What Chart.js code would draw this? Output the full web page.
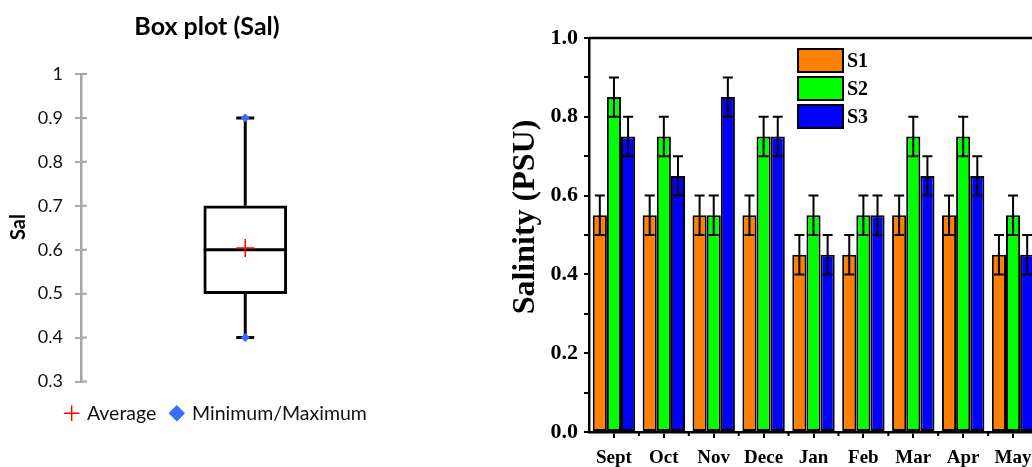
<!DOCTYPE html>
<html>
<head>
<meta charset="utf-8">
<script src="https://cdn.jsdelivr.net/npm/chart.js@4.4.1/dist/chart.umd.min.js"></script>
<style>
    html, body { margin: 0; padding: 0; background: #fff; }
    body { width: 1032px; height: 467px; overflow: hidden; position: relative; }
    #boxplot { position: absolute; left: 0; top: 0; }
    #salinidad { position: absolute; left: 500px; top: 0; }
</style>
</head>
<body>
<canvas id="boxplot" width="420" height="467"></canvas>
<canvas id="salinidad" width="560" height="467"></canvas>
<script>
// Datos del box plot (Sal)
const salMin = 0.4;
const salQ1 = 0.5;
const salMediana = 0.6;
const salQ3 = 0.7;
const salMax = 0.9;
const salPromedio = 0.604;
const boxTicks = [0.3, 0.4, 0.5, 0.6, 0.7, 0.8, 0.9, 1];
const boxTickLabels = ['0.3', '0.4', '0.5', '0.6', '0.7', '0.8', '0.9', '1'];

// Datos de salinidad por mes y estación
const meses = ['Sept', 'Oct', 'Nov', 'Dece', 'Jan', 'Feb', 'Mar', 'Apr', 'May'];
const s1 = [0.55, 0.55, 0.55, 0.55, 0.45, 0.45, 0.55, 0.55, 0.45];
const s2 = [0.85, 0.75, 0.55, 0.75, 0.55, 0.55, 0.75, 0.75, 0.55];
const s3 = [0.75, 0.65, 0.85, 0.75, 0.45, 0.55, 0.65, 0.65, 0.45];
const s1Err = [0.05, 0.05, 0.05, 0.05, 0.05, 0.05, 0.05, 0.05, 0.05];
const s2Err = [0.05, 0.05, 0.05, 0.05, 0.05, 0.05, 0.05, 0.05, 0.05];
const s3Err = [0.05, 0.05, 0.05, 0.05, 0.05, 0.05, 0.05, 0.05, 0.05];
const salTicks = [0, 0.1, 0.2, 0.3, 0.4, 0.5, 0.6, 0.7, 0.8, 0.9, 1.0];
const salTickLabels = ['0.0', '', '0.2', '', '0.4', '', '0.6', '', '0.8', '', '1.0'];

const calibri = 'Lato, "Open Sans", sans-serif';
const times = '"Liberation Serif", "DejaVu Serif", serif';

// Texto girado (títulos de eje) o normal
function texto(ctx, txt, x, y, fuente, girado) {
    ctx.save();
    ctx.translate(x, y);
    if (girado) ctx.rotate(-Math.PI / 2);
    ctx.font = fuente;
    ctx.fillStyle = '#000';
    ctx.textAlign = 'center';
    ctx.textBaseline = 'middle';
    ctx.fillText(txt, 0, 0);
    ctx.restore();
}

// Bigotes y mediana del box plot
const bigotes = {
    id: 'bigotes',
    afterDatasetDraw(chart, args) {
        if (args.index !== 0) return;
        const ctx = chart.ctx;
        const y = chart.scales.y;
        const caja = args.meta.data[0];
        const x = caja.x;
        const mitad = caja.width / 2;
        ctx.save();
        ctx.strokeStyle = '#000';
        ctx.lineWidth = 3;
        ctx.beginPath();
        ctx.moveTo(x, y.getPixelForValue(salQ3));
        ctx.lineTo(x, y.getPixelForValue(salMax));
        ctx.moveTo(x, y.getPixelForValue(salQ1));
        ctx.lineTo(x, y.getPixelForValue(salMin));
        ctx.moveTo(x - 9, y.getPixelForValue(salMax));
        ctx.lineTo(x + 9, y.getPixelForValue(salMax));
        ctx.moveTo(x - 9, y.getPixelForValue(salMin));
        ctx.lineTo(x + 9, y.getPixelForValue(salMin));
        ctx.moveTo(x - mitad, y.getPixelForValue(salMediana));
        ctx.lineTo(x + mitad, y.getPixelForValue(salMediana));
        ctx.stroke();

        // parte interior de las marcas del eje
        ctx.strokeStyle = '#a6a6a6';
        ctx.lineWidth = 2;
        ctx.beginPath();
        boxTicks.forEach(v => {
            const py = y.getPixelForValue(v);
            ctx.moveTo(y.right, py);
            ctx.lineTo(y.right + 6, py);
        });
        ctx.stroke();
        ctx.restore();

        texto(ctx, 'Box plot (Sal)', 207, 27, 'bold 25px ' + calibri, false);
        texto(ctx, 'Sal', 19, 227, 'bold 20px ' + calibri, true);
    }
};

new Chart(document.getElementById('boxplot'), {
    type: 'bar',
    data: {
        labels: ['Sal'],
        datasets: [
            {
                label: 'Caja',
                data: [[salQ1, salQ3]],
                backgroundColor: '#fff',
                borderColor: '#000',
                borderWidth: 3,
                borderSkipped: false,
                barThickness: 83,
                order: 3
            },
            {
                type: 'line',
                label: 'Average',
                data: [salPromedio],
                showLine: false,
                pointStyle: 'cross',
                pointRadius: 9,
                borderColor: '#ff0000',
                backgroundColor: '#ff0000',
                borderWidth: 1.5,
                order: 1
            },
            {
                type: 'line',
                label: 'Minimum/Maximum',
                data: [salMin],
                showLine: false,
                pointStyle: 'rectRot',
                pointRadius: 4,
                borderColor: '#3d6bff',
                backgroundColor: '#3d6bff',
                order: 2
            },
            {
                type: 'line',
                label: 'Max',
                data: [salMax],
                showLine: false,
                pointStyle: 'rectRot',
                pointRadius: 4,
                borderColor: '#3d6bff',
                backgroundColor: '#3d6bff',
                order: 2
            }
        ]
    },
    options: {
        responsive: false,
        animation: false,
        devicePixelRatio: 1,
        layout: { padding: { top: 74, left: 17, right: 4, bottom: 34 } },
        plugins: {
            legend: {
                position: 'bottom',
                labels: {
                    usePointStyle: true,
                    boxWidth: 11,
                    boxHeight: 11,
                    color: '#111',
                    font: { family: calibri, size: 19.5 },
                    padding: 15,
                    filter: item => item.text === 'Average' || item.text === 'Minimum/Maximum'
                }
            },
            tooltip: { enabled: false }
        },
        scales: {
            x: {
                afterFit: scale => { scale.height = 7; },
                grid: { display: false },
                border: { display: false },
                ticks: { display: false }
            },
            y: {
                min: 0.3,
                max: 1,
                afterBuildTicks: scale => { scale.ticks = boxTicks.map(v => ({ value: v })); },
                afterFit: scale => { scale.width = 64; },
                grid: { drawOnChartArea: false, color: '#a6a6a6', tickLength: 6, lineWidth: 2 },
                border: { color: '#a6a6a6', width: 2.5 },
                ticks: {
                    color: '#111',
                    font: { family: calibri, size: 18 },
                    padding: 12,
                    callback: (v, i) => boxTickLabels[i]
                }
            }
        }
    },
    plugins: [bigotes]
});

// Barras de error, leyenda y marco del gráfico de salinidad
const extrasSalinidad = {
    id: 'extrasSalinidad',
    afterDatasetsDraw(chart) {
        const ctx = chart.ctx;
        const y = chart.scales.y;
        const x = chart.scales.x;
        const area = chart.chartArea;
        const errores = [s1Err, s2Err, s3Err];
        ctx.save();
        ctx.strokeStyle = '#000';
        ctx.lineWidth = 2;
        chart.data.datasets.forEach((ds, i) => {
            chart.getDatasetMeta(i).data.forEach((barra, j) => {
                const v = ds.data[j];
                const arriba = y.getPixelForValue(v + errores[i][j]);
                const abajo = y.getPixelForValue(v - errores[i][j]);
                ctx.beginPath();
                ctx.moveTo(barra.x, arriba);
                ctx.lineTo(barra.x, abajo);
                ctx.moveTo(barra.x - 5, arriba);
                ctx.lineTo(barra.x + 5, arriba);
                ctx.moveTo(barra.x - 5, abajo);
                ctx.lineTo(barra.x + 5, abajo);
                ctx.stroke();
            });
        });

        // marco superior
        ctx.lineWidth = 2.5;
        ctx.beginPath();
        ctx.moveTo(area.left, area.top);
        ctx.lineTo(area.right + 40, area.top);
        ctx.stroke();

        // ticks menores entre categorías
        ctx.lineWidth = 2;
        ctx.beginPath();
        for (let i = 1; i < meses.length; i++) {
            const xm = (x.getPixelForTick(i - 1) + x.getPixelForTick(i)) / 2;
            ctx.moveTo(xm, area.bottom);
            ctx.lineTo(xm, area.bottom + 4);
        }
        ctx.stroke();

        // leyenda
        ctx.font = 'bold 20px ' + times;
        ctx.textBaseline = 'middle';
        chart.data.datasets.forEach((ds, i) => {
            const ly = 49 + i * 28;
            ctx.fillStyle = ds.backgroundColor;
            ctx.fillRect(298, ly, 45, 23);
            ctx.strokeRect(298, ly, 45, 23);
            ctx.fillStyle = '#000';
            ctx.fillText(ds.label, 347, ly + 13);
        });
        ctx.restore();

        texto(ctx, 'Salinity (PSU)', 26, 217, 'bold 32px ' + times, true);
    }
};

new Chart(document.getElementById('salinidad'), {
    type: 'bar',
    data: {
        labels: meses,
        datasets: [
            { label: 'S1', data: s1, backgroundColor: '#ff8000' },
            { label: 'S2', data: s2, backgroundColor: '#00ff00' },
            { label: 'S3', data: s3, backgroundColor: '#0000ff' }
        ]
    },
    options: {
        responsive: false,
        animation: false,
        devicePixelRatio: 1,
        layout: { padding: { top: 38, right: 22 } },
        datasets: {
            bar: {
                borderColor: '#000',
                borderWidth: 2,
                borderSkipped: false,
                categoryPercentage: 0.85,
                barPercentage: 1
            }
        },
        plugins: {
            legend: { display: false },
            tooltip: { enabled: false }
        },
        scales: {
            x: {
                offset: true,
                afterFit: scale => { scale.height = 35; },
                grid: { offset: false, drawOnChartArea: false, color: '#000', tickLength: 6, lineWidth: 2 },
                border: { color: '#000', width: 2.5 },
                ticks: {
                    color: '#000',
                    autoSkip: false,
                    maxRotation: 0,
                    padding: 9,
                    font: { family: times, size: 19, weight: 'bold' }
                }
            },
            y: {
                min: 0,
                max: 1,
                afterBuildTicks: scale => { scale.ticks = salTicks.map(v => ({ value: v })); },
                afterFit: scale => { scale.width = 89; },
                grid: { drawOnChartArea: false, color: '#000', tickLength: 5, lineWidth: 2 },
                border: { color: '#000', width: 2.5 },
                ticks: {
                    color: '#000',
                    padding: 6,
                    font: { family: times, size: 22, weight: 'bold' },
                    callback: (v, i) => salTickLabels[i]
                }
            }
        }
    },
    plugins: [extrasSalinidad]
});
</script>
</body>
</html>
